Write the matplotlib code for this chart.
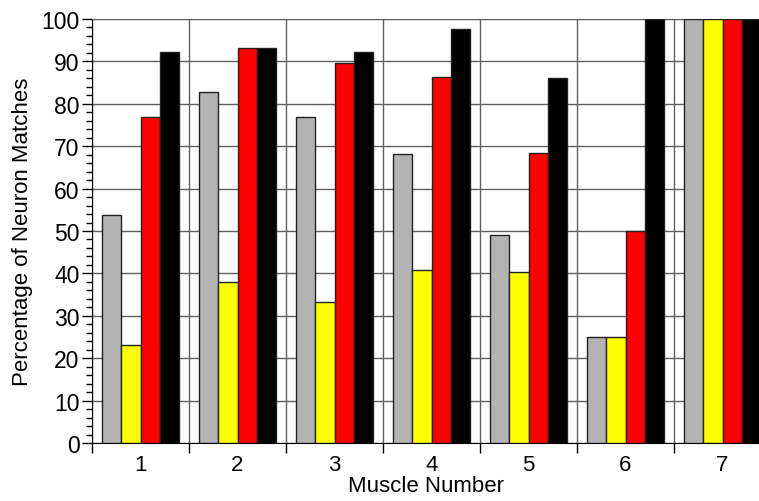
import matplotlib
matplotlib.use("Agg")
import matplotlib.pyplot as plt
import numpy as np
from matplotlib.ticker import MultipleLocator, FixedLocator

plt.rcParams['font.family'] = ['Liberation Sans', 'DejaVu Sans']

muscles = ['1', '2', '3', '4', '5', '6', '7']
series_gray = [53.8, 82.8, 76.9, 68.2, 49.1, 25.0, 100.0]
series_yellow = [23.1, 37.9, 33.3, 40.9, 40.4, 25.0, 100.0]
series_red = [76.9, 93.1, 89.7, 86.4, 68.4, 50.0, 100.0]
series_black = [92.3, 93.1, 92.3, 97.7, 86.0, 100.0, 100.0]
colors = ['#b3b3b3', '#ffff00', '#ff0000', '#000000']

fig = plt.figure(figsize=(7.59, 5.02), dpi=100)
ax = fig.add_axes([92/759, 58/502, 667/759, 424/502])

x = np.arange(1, len(muscles) + 1)
w = 0.2
for i, (vals, c) in enumerate(zip([series_gray, series_yellow, series_red, series_black], colors)):
    ax.bar(x - 0.3 + i * w, vals, width=w, color=c, edgecolor='#222222', linewidth=1.0, zorder=3)

ax.set_xlim(0.5, 0.5 + 667/97)
ax.set_ylim(0, 100)

ax.yaxis.set_major_locator(MultipleLocator(10))
ax.yaxis.set_minor_locator(MultipleLocator(2))
ax.set_xticks(x)
ax.set_xticklabels(muscles)
ax.xaxis.set_minor_locator(FixedLocator(np.arange(0.5, 8, 1.0)))
ax.tick_params(axis='x', which='major', length=0, labelsize=16, pad=8)
ax.tick_params(axis='x', which='minor', length=7, width=1, direction='out')
ax.tick_params(axis='y', which='major', length=7, width=1, labelsize=16.5, direction='out', pad=2)
ax.tick_params(axis='y', which='minor', length=4, width=1, direction='out')

ax.grid(True, axis='y', which='major', color='#606060', linewidth=1, zorder=0)
ax.grid(True, axis='x', which='minor', color='#606060', linewidth=1, zorder=0)
ax.set_axisbelow(True)

ax.spines['right'].set_visible(False)
ax.spines['top'].set_color('#606060')
ax.spines['left'].set_color('black')
ax.spines['bottom'].set_color('black')

ax.set_xlabel('Muscle Number', fontsize=16, labelpad=0)
ax.set_ylabel('Percentage of Neuron Matches', fontsize=16, labelpad=6)

fig.savefig('out.png', dpi=100)
